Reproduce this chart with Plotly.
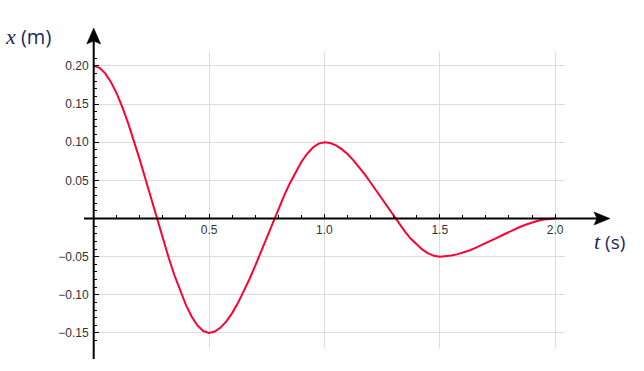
import numpy as np
import plotly.graph_objects as go

# ---- data ----
t_vals = [0.000, 0.025, 0.050, 0.075, 0.100, 0.125, 0.150, 0.175, 0.200, 0.225,
          0.250, 0.275, 0.300, 0.325, 0.350, 0.375, 0.400, 0.425, 0.450, 0.475,
          0.500, 0.525, 0.550, 0.575, 0.600, 0.625, 0.650, 0.675, 0.700, 0.725,
          0.750, 0.775, 0.800, 0.825, 0.850, 0.875, 0.900, 0.925, 0.950, 0.975,
          1.000, 1.025, 1.050, 1.075, 1.100, 1.125, 1.150, 1.175, 1.200, 1.225,
          1.250, 1.275, 1.300, 1.325, 1.350, 1.375, 1.400, 1.425, 1.450, 1.475,
          1.500, 1.525, 1.550, 1.575, 1.600, 1.625, 1.650, 1.675, 1.700, 1.725,
          1.750, 1.775, 1.800, 1.825, 1.850, 1.875, 1.900, 1.925, 1.950, 1.975,
          2.000]
x_vals = [0.2000, 0.1975, 0.1902, 0.1787, 0.1636, 0.1453, 0.1244, 0.1014, 0.0768, 0.0512,
          0.0250, -0.0012, -0.0268, -0.0514, -0.0744, -0.0953, -0.1136, -0.1287, -0.1402, -0.1475,
          -0.1500, -0.1482, -0.1430, -0.1348, -0.1240, -0.1109, -0.0960, -0.0796, -0.0620, -0.0437,
          -0.0250, -0.0063, 0.0120, 0.0296, 0.0460, 0.0609, 0.0740, 0.0848, 0.0930, 0.0982,
          0.1000, 0.0989, 0.0958, 0.0909, 0.0844, 0.0766, 0.0676, 0.0577, 0.0472, 0.0362,
          0.0250, 0.0138, 0.0028, -0.0077, -0.0176, -0.0266, -0.0344, -0.0409, -0.0458, -0.0489,
          -0.0500, -0.0496, -0.0486, -0.0470, -0.0448, -0.0422, -0.0392, -0.0359, -0.0324, -0.0287,
          -0.0250, -0.0213, -0.0176, -0.0141, -0.0108, -0.0078, -0.0052, -0.0030, -0.0014, -0.0004,
          0.0000]

x_tick_vals = [0.5, 1.0, 1.5, 2.0]
x_tick_text = ["0.5", "1.0", "1.5", "2.0"]
y_tick_vals = [-0.15, -0.10, -0.05, 0.05, 0.10, 0.15, 0.20]
y_tick_text = ["\u22120.15", "\u22120.10", "\u22120.05", "0.05", "0.10", "0.15", "0.20"]

# ---- layout geometry (pixels) ----
W, H = 644, 371
X0, SX = 93.7, 230.7      # pixel of t=0, px per second
Y0, SY = 218.5, 763.0     # pixel of x=0, px per metre
GL, GR, GT, GB = 93.7, 565.0, 51.5, 348.0


def px2t(px):
    return (px - X0) / SX


def py2v(py):
    return (Y0 - py) / SY


def pxp(px):
    return px / W


def pyp(py):
    return 1 - py / H


tick_font = dict(family="Liberation Sans, Arial, sans-serif", size=12, color="#333333")
label_color = "#1b2a5c"

fig = go.Figure()
fig.add_trace(go.Scatter(
    x=t_vals, y=x_vals, mode="lines",
    line=dict(color="#ff0033", width=2, shape="linear"),
    hoverinfo="skip", showlegend=False,
))

x_minor = [v for v in np.round(np.arange(0.1, 2.0, 0.1), 2) if v not in x_tick_vals]
y_minor = [v for v in np.round(np.arange(-0.17, 0.215, 0.01), 2) if abs(v) > 1e-9]

fig.update_layout(
    width=W, height=H,
    margin=dict(l=0, r=0, t=0, b=0),
    paper_bgcolor="white", plot_bgcolor="white",
    xaxis=dict(
        domain=[pxp(GL), pxp(GR)], range=[px2t(GL), px2t(GR)],
        anchor="free", position=pyp(Y0),
        showline=False, zeroline=False,
        showgrid=True, gridcolor="#dddddd", gridwidth=1,
        tickmode="array", tickvals=x_tick_vals, ticktext=x_tick_text,
        ticks="inside", ticklen=5, tickwidth=1, tickcolor="black",
        tickfont=tick_font, ticklabelstandoff=2,
        minor=dict(tickmode="array", tickvals=x_minor, ticks="inside",
                   ticklen=4, tickwidth=1, tickcolor="black", showgrid=False),
        fixedrange=True,
    ),
    yaxis=dict(
        domain=[pyp(GB), pyp(GT)], range=[py2v(GB), py2v(GT)],
        anchor="x",
        showline=False, zeroline=False,
        showgrid=True, gridcolor="#dddddd", gridwidth=1,
        tickmode="array", tickvals=y_tick_vals, ticktext=y_tick_text,
        ticks="inside", ticklen=5, tickwidth=1, tickcolor="black",
        tickfont=tick_font, ticklabelstandoff=4,
        minor=dict(tickmode="array", tickvals=y_minor, ticks="inside",
                   ticklen=3, tickwidth=1, tickcolor="black", showgrid=False),
        fixedrange=True,
    ),
)

# axis lines with arrowheads (paper coordinates)
shapes = [
    dict(type="line", xref="paper", yref="paper",
         x0=pxp(X0), x1=pxp(X0), y0=pyp(359), y1=pyp(40),
         line=dict(color="black", width=2), layer="above"),
    dict(type="line", xref="paper", yref="paper",
         x0=pxp(84), x1=pxp(598), y0=pyp(Y0), y1=pyp(Y0),
         line=dict(color="black", width=2), layer="above"),
]


def path(points):
    return "M " + " L ".join(f"{pxp(a):.5f},{pyp(b):.5f}" for a, b in points) + " Z"


shapes.append(dict(type="path", xref="paper", yref="paper",
                   path=path([(X0, 28), (X0 - 7, 44), (X0, 41), (X0 + 7, 44)]),
                   fillcolor="black", line=dict(color="black", width=0.5), layer="above"))
shapes.append(dict(type="path", xref="paper", yref="paper",
                   path=path([(610, Y0), (594, Y0 - 6.5), (597, Y0), (594, Y0 + 6.5)]),
                   fillcolor="black", line=dict(color="black", width=0.5), layer="above"))
fig.update_layout(shapes=shapes)

serif = "Liberation Serif"
fig.add_annotation(
    xref="paper", yref="paper", x=pxp(3), y=pyp(37), xanchor="left", yanchor="middle",
    text=f"<span style='font-family:{serif};font-size:22px'><i>x</i></span> (m)",
    showarrow=False, font=dict(family="Open Sans, sans-serif", size=20, color=label_color),
)
fig.add_annotation(
    xref="paper", yref="paper", x=pxp(592), y=pyp(242), xanchor="left", yanchor="middle",
    text=f"<span style='font-family:{serif};font-size:22px'><i>t</i></span> (s)",
    showarrow=False, font=dict(family="Open Sans, sans-serif", size=19, color=label_color),
)

fig.write_html("out.html")
